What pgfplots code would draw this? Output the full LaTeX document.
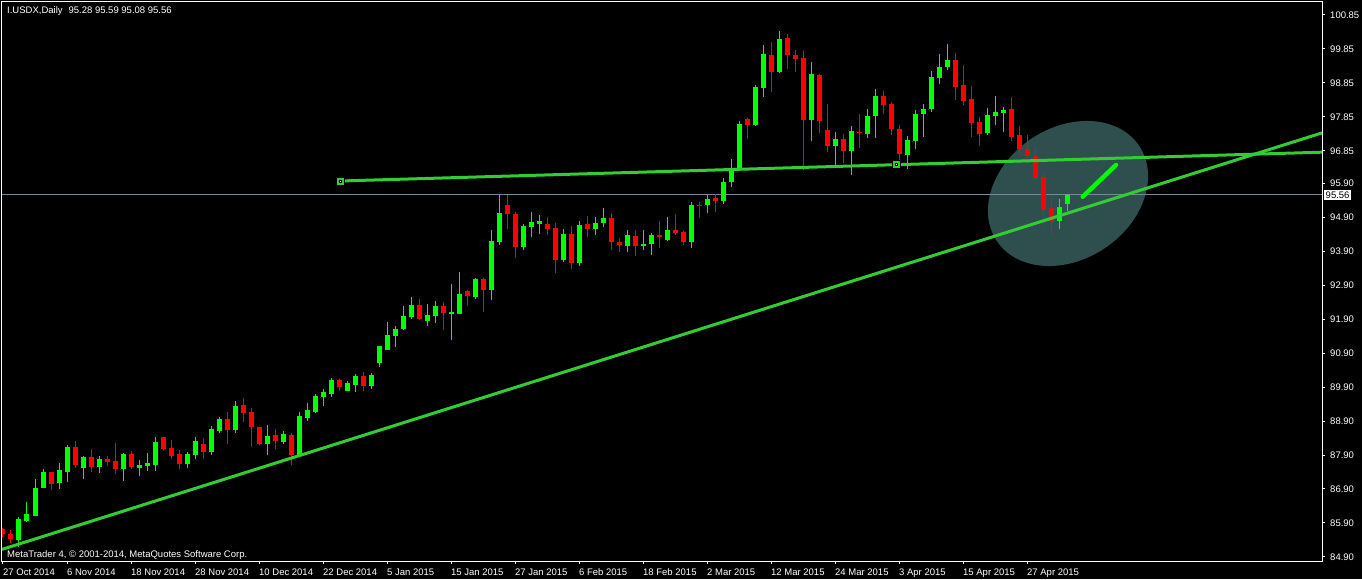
\documentclass[border=0pt]{standalone}
\usepackage{pgfplots}
\usepackage{pgfplotstable}
\pgfplotsset{compat=1.18}
\usepackage{fontspec}
\setmainfont{Liberation Sans}

\definecolor{bull}{RGB}{0,255,0}
\definecolor{bear}{RGB}{255,0,0}
\definecolor{trend}{RGB}{50,205,50}
\definecolor{zone}{RGB}{47,79,79}
\definecolor{bidline}{RGB}{119,136,153}
\newcommand\mt{\fontsize{9.5pt}{11pt}\selectfont}

% daily bars, x = bar number from 27 Oct 2014
\pgfplotstableread{
x o h l c
2 85.40 86.07 85.20 86.02
3 85.97 86.53 85.94 86.16
4 86.12 87.20 86.12 86.93
5 86.94 87.48 86.94 87.40
7 87.09 87.66 86.91 87.46
8 87.41 88.20 87.12 88.14
10 87.53 87.87 87.20 87.84
12 87.56 87.87 87.38 87.78
15 87.50 87.97 87.15 87.94
17 87.53 87.75 87.29 87.61
18 87.59 87.97 87.43 87.67
19 87.60 88.42 87.43 88.28
23 87.65 87.99 87.51 87.94
24 87.91 88.42 87.77 88.31
26 88.00 88.74 87.89 88.68
27 88.61 89.03 88.56 88.96
29 88.63 89.49 88.56 89.34
33 88.21 88.78 87.89 88.46
35 88.28 88.62 88.22 88.53
37 87.89 89.18 87.87 89.05
38 89.00 89.42 88.91 89.23
39 89.17 89.70 89.14 89.64
40 89.61 89.84 89.34 89.76
41 89.70 90.17 89.61 90.11
43 89.78 90.08 89.78 90.02
44 89.96 90.29 89.76 90.23
46 89.93 90.31 89.84 90.26
47 90.61 91.11 90.49 91.11
48 90.99 91.82 90.99 91.43
49 91.40 91.70 91.08 91.61
50 91.61 92.29 91.58 91.99
51 91.96 92.55 91.90 92.32
53 91.84 92.35 91.70 92.02
54 91.99 92.43 91.79 92.29
56 92.05 92.93 91.29 92.11
57 92.05 93.29 92.05 92.64
59 92.55 93.11 92.49 93.08
61 92.76 94.52 92.46 94.20
62 94.17 95.55 94.08 95.02
65 94.02 94.70 93.93 94.64
66 94.61 95.05 94.32 94.76
67 94.70 94.96 94.41 94.79
70 93.64 94.55 93.58 94.41
72 93.55 94.79 93.46 94.67
74 94.55 94.91 94.38 94.73
75 94.73 95.17 94.61 94.88
78 94.05 94.52 93.88 94.38
80 94.05 94.52 93.93 94.11
81 94.11 94.43 93.79 94.38
83 94.23 94.91 94.20 94.52
86 94.17 95.35 93.99 95.26
88 95.26 95.55 95.02 95.44
90 95.38 96.05 95.29 95.94
91 95.94 96.61 95.79 96.35
92 96.35 97.73 96.35 97.64
94 97.61 98.79 97.58 98.73
95 98.70 99.97 98.44 99.70
97 99.17 100.38 99.14 100.14
101 97.76 99.47 97.14 99.11
104 96.99 97.41 96.44 97.20
106 96.85 97.58 96.14 97.44
108 97.35 98.08 97.23 97.88
109 97.88 98.67 97.23 98.47
113 96.73 97.29 96.32 97.17
114 97.14 98.05 96.91 97.94
115 97.94 98.23 97.26 98.08
116 98.08 99.20 98.00 99.03
117 99.00 99.70 98.82 99.32
118 99.32 100.00 99.23 99.53
123 97.38 98.11 97.32 97.91
124 97.88 98.47 97.61 98.00
125 97.97 98.14 97.41 98.05
132 94.79 95.44 94.55 95.20
133 95.28 95.59 95.08 95.56
}\upbars

\pgfplotstableread{
x o h l c
0 85.71 85.74 85.50 85.58
1 85.58 85.69 85.30 85.42
6 87.40 87.40 86.87 87.06
9 88.14 88.31 87.51 87.61
11 87.84 88.08 87.41 87.56
13 87.78 87.87 87.58 87.68
14 87.71 88.26 87.34 87.49
16 87.94 88.01 87.48 87.56
20 88.43 88.43 88.05 88.08
21 88.11 88.34 87.78 87.88
22 87.93 88.05 87.50 87.65
25 88.22 88.39 87.77 88.00
28 88.96 89.18 88.22 88.64
30 89.37 89.58 88.87 89.15
31 89.17 89.28 88.14 88.71
32 88.73 88.73 88.19 88.21
34 88.49 88.68 88.09 88.32
36 88.49 88.54 87.62 87.90
42 90.11 90.14 89.78 89.90
45 90.23 90.34 89.78 89.93
52 92.32 92.49 91.87 91.90
55 92.29 92.40 91.58 92.08
58 92.73 92.76 92.29 92.58
60 93.08 93.11 92.11 92.76
63 95.26 95.55 94.55 94.99
64 94.99 95.05 93.70 94.02
68 94.70 94.91 94.38 94.55
69 94.58 94.73 93.26 93.64
71 94.41 94.64 93.37 93.55
73 94.70 94.93 94.32 94.55
76 94.88 95.02 93.93 94.17
77 94.17 94.29 93.88 94.08
79 94.35 94.52 93.76 94.05
82 94.38 94.79 93.99 94.32
84 94.52 94.99 94.38 94.43
85 94.46 94.49 94.08 94.17
87 95.26 95.35 94.88 95.23
89 95.46 95.58 95.05 95.38
93 97.79 97.82 97.20 97.61
96 99.67 100.06 98.58 99.17
98 100.17 100.29 99.26 99.67
99 99.67 99.82 99.17 99.56
100 99.58 99.79 96.29 97.76
102 99.08 99.11 97.38 97.73
103 97.47 98.23 96.82 96.99
105 97.20 97.35 96.49 96.85
107 97.41 97.94 96.94 97.38
110 98.47 98.61 97.94 98.20
111 98.23 98.29 97.32 97.50
112 97.50 97.61 96.38 96.76
119 99.53 99.73 98.35 98.73
120 98.79 99.38 98.20 98.32
121 98.38 98.76 97.26 97.67
122 97.70 97.85 96.99 97.35
126 98.08 98.44 97.14 97.26
127 97.32 97.58 96.73 96.91
128 96.91 97.32 96.47 96.70
129 96.70 96.97 95.99 96.05
130 96.08 96.20 94.67 95.11
131 95.17 95.49 94.41 94.76
}\downbars

% wick from low to high, then body from open to close
\newcommand\candles[2]{%
  \addplot[draw=none, mark=none, forget plot,
    error bars/.cd, y dir=plus, y explicit, error mark=none,
    error bar style={draw=#2, line width=1pt}]
    table[x=x, y=l, y error expr=\thisrow{h}-\thisrow{l}] {#1};
  \addplot[draw=none, mark=none, forget plot,
    error bars/.cd, y dir=plus, y explicit, error mark=none,
    error bar style={draw=#2, line width=5pt}]
    table[x=x, y expr={min(\thisrow{o},\thisrow{c})},
      y error expr={max(abs(\thisrow{c}-\thisrow{o}),0.03)}] {#1};
}

\begin{document}
\begin{tikzpicture}
\path[use as bounding box] (0,0) rectangle (1362pt,579pt);
\fill[black] (0,0) rectangle (1362pt,579pt);
\begin{axis}[
  at={(2pt,18pt)}, anchor=south west,
  width=1320pt, height=559pt, scale only axis,
  xmin=-0.125, xmax=164.875,
  ymin=84.781, ymax=101.232,
  axis line style={white, line width=1pt},
  tick style={white, line width=1pt},
  tick align=outside, major tick length=3pt,
  xtick pos=bottom, ytick pos=right, yticklabel pos=right,
  xtick={0,8,...,128},
  xticklabels={27 Oct 2014, 6 Nov 2014, 18 Nov 2014, 28 Nov 2014,
    10 Dec 2014, 22 Dec 2014, 5 Jan 2015, 15 Jan 2015, 27 Jan 2015,
    6 Feb 2015, 18 Feb 2015, 2 Mar 2015, 12 Mar 2015, 24 Mar 2015,
    3 Apr 2015, 15 Apr 2015, 27 Apr 2015},
  ytick={84.90,85.90,86.90,87.90,88.90,89.90,90.90,91.90,92.90,93.90,
    94.90,95.90,96.85,97.85,98.85,99.85,100.85},
  yticklabels={84.90,85.90,86.90,87.90,88.90,89.90,90.90,91.90,92.90,93.90,
    94.90,95.90,96.85,97.85,98.85,99.85,100.85},
  tick label style={font=\mt, text=white, inner sep=0pt},
  xticklabel style={anchor=base west, yshift=-11pt},
  yticklabel style={anchor=west, xshift=5pt},
]
% zone around the retest
\coordinate (ec) at (axis cs:133.125,95.597);
\fill[zone, rotate around={33.7:(ec)}] (ec) ellipse [x radius=85.6pt, y radius=65.9pt];

% bid line
\addplot[bidline, line width=1pt, forget plot] coordinates {(-0.125,95.56) (164.875,95.56)};

\candles{\downbars}{bear}
\candles{\upbars}{bull}

% rising support line
\addplot[trend, line width=3pt, forget plot] coordinates {(-0.125,85.123) (164.875,97.380)};
% neckline ray and its two anchors
\addplot[trend, line width=3pt, forget plot] coordinates {(42.125,95.964) (164.875,96.812)};
\addplot[only marks, mark=square*, mark size=4pt, mark options={fill=trend, draw=none}, forget plot]
  coordinates {(42.125,95.964) (111.625,96.444)};
\addplot[only marks, mark=square*, mark size=1pt, mark options={fill=white, draw=none}, forget plot]
  coordinates {(42.125,95.964) (111.625,96.444)};
% short stroke inside the zone
\addplot[bull, line width=4.5pt, line cap=round, forget plot] coordinates {(134.96,95.50) (139.125,96.435)};

\coordinate (bid) at (axis cs:164.875,95.56);
\end{axis}
\node[fill=white, text=black, font=\mt, anchor=west, inner xsep=2pt, inner ysep=1.5pt, xshift=1.5pt] at (bid) {95.56};
\node[anchor=base west, inner sep=0pt, text=white, font=\mt] at (7pt,565pt) {I.USDX,Daily\hspace{6pt}95.28 95.59 95.08 95.56};
\node[anchor=base west, inner sep=0pt, text=white, font=\mt] at (7pt,22pt) {MetaTrader 4, © 2001-2014, MetaQuotes Software Corp.};
\end{tikzpicture}
\end{document}
